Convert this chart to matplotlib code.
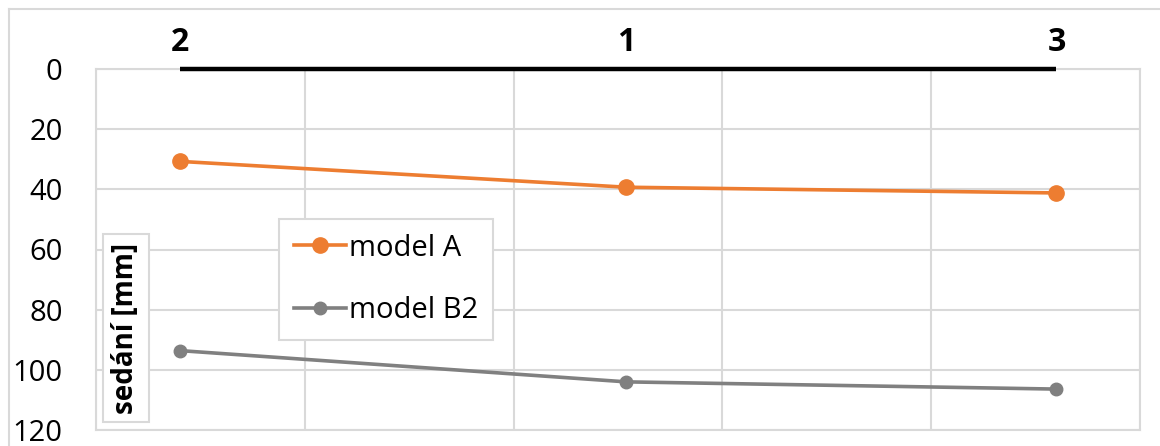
import matplotlib.pyplot as plt
from matplotlib.lines import Line2D

plt.rcParams['font.family'] = ['Open Sans', 'DejaVu Sans']

# data
positions = [0.4, 2.54, 4.6]
point_labels = ['2', '1', '3']
model_a = [30.7, 39.3, 41.2]
model_b2 = [93.6, 104.0, 106.4]
surface = [0, 0, 0]
y_ticks = [0, 20, 40, 60, 80, 100, 120]

W, H = 1160, 446
fig = plt.figure(figsize=(W / 100, H / 100), dpi=100)

# outer chart frame (left + top edges visible)
fig.add_artist(Line2D([9 / W, 9 / W], [0, 1 - 9 / H], color='#d9d9d9', lw=1.5))
fig.add_artist(Line2D([9 / W, 1], [1 - 9 / H, 1 - 9 / H], color='#d9d9d9', lw=1.5))

ax = fig.add_axes([96 / W, 1 - 430 / H, (1140 - 96) / W, (430 - 69) / H])

grid_c = '#d9d9d9'
ax.set_xlim(0, 5)
ax.set_ylim(120, 0)
ax.set_xticks(range(0, 6))
ax.set_yticks(y_ticks)
ax.grid(True, color=grid_c, lw=1.5)
ax.set_axisbelow(True)
for s in ax.spines.values():
    s.set_color(grid_c)
    s.set_linewidth(1.5)
ax.tick_params(axis='x', length=0, labelbottom=False)
ax.tick_params(axis='y', length=0, pad=24, labelsize=21)

# surface line with point labels
ax.plot(positions, surface, color='black', lw=3.2, solid_capstyle='butt',
        clip_on=False, zorder=5)
for x, lab in zip(positions, point_labels):
    ax.annotate(lab, (x, 0), xytext=(0, 7), textcoords='offset points',
                ha='center', va='bottom', fontsize=23, fontweight='bold')

ax.plot(positions, model_a, color='#ed7d31', lw=2.6, marker='o', ms=11,
        label='model A', zorder=4)
ax.plot(positions, model_b2, color='#808080', lw=2.6, marker='o', ms=9,
        label='model B2', zorder=4)

leg = ax.legend(loc='upper left', bbox_to_anchor=((279 - 96) / 1044, 1 - (219 - 69) / 361),
                fontsize=21, handlelength=1.8, handletextpad=0.1, labelspacing=1.15,
                borderpad=0.5, borderaxespad=0, fancybox=False, framealpha=1,
                edgecolor=grid_c)
leg.get_frame().set_linewidth(1.5)

fig.text(126 / W, 1 - 328 / H, 'sedání [mm]', rotation=90, ha='center', va='center',
         fontsize=20, fontweight='bold',
         bbox=dict(boxstyle='square,pad=0.3', fc='white', ec=grid_c, lw=1.5))

fig.savefig('out.png', dpi=100)
